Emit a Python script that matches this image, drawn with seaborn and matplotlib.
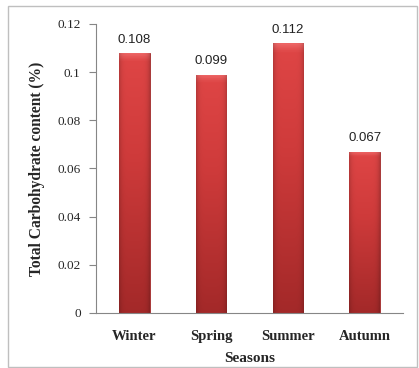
import numpy as np
import pandas as pd
import seaborn as sns
import matplotlib.pyplot as plt
from matplotlib.patches import Rectangle

# data
seasons = ["Winter", "Spring", "Summer", "Autumn"]
carbs = [0.108, 0.099, 0.112, 0.067]
df = pd.DataFrame({"Seasons": seasons, "carb": carbs})

sns.set_style("white")
plt.rcParams["font.family"] = ["Liberation Serif", "DejaVu Serif"]

fig = plt.figure(figsize=(4.19, 3.68), dpi=100)
ax = fig.add_axes([0.229, 0.1495, 0.733, 0.7853])

sns.barplot(data=df, x="Seasons", y="carb", color="#C83232", width=0.4,
            saturation=1, ax=ax)

# shading: light red at the top, darker towards the bottom, dark edges
fy = np.linspace(1, 0, 120)  # top -> bottom
stops_f = [0.0, 0.6, 0.97, 1.0]
stops_c = np.array([[0.64, 0.16, 0.16], [0.81, 0.23, 0.23],
                    [0.87, 0.27, 0.27], [0.93, 0.40, 0.40]])
col = np.stack([np.interp(fy, stops_f, stops_c[:, k]) for k in range(3)], -1)
xs = np.linspace(-1, 1, 60)
horiz = 1 - 0.18 * np.abs(xs) ** 6
img = np.clip(col[:, None, :] * horiz[None, :, None], 0, 1)
for p in ax.patches:
    x0, y0 = p.get_x(), p.get_y()
    w, h = p.get_width(), p.get_height()
    im = ax.imshow(img, extent=[x0, x0 + w, y0, y0 + h], aspect="auto",
                   origin="upper", zorder=p.get_zorder() + 0.1)
    im.set_clip_path(p)
    p.set_edgecolor("#9E2A2A")
    p.set_linewidth(0.6)

for i, v in enumerate(carbs):
    ax.text(i, v + 0.003, f"{v:g}", ha="center", va="bottom", fontsize=9.5,
            family="Liberation Sans", color="#222222")

ax.set_xlim(-0.5, 3.5)
ax.set_ylim(0, 0.12)
ax.set_yticks([0, 0.02, 0.04, 0.06, 0.08, 0.1, 0.12])
ax.set_yticklabels(["0", "0.02", "0.04", "0.06", "0.08", "0.1", "0.12"])
ax.set_xticks([-0.5, 0.5, 1.5, 2.5, 3.5], minor=True)
ax.tick_params(axis="x", which="major", length=0, pad=12, labelsize=10.5)
ax.tick_params(axis="x", which="minor", length=5, color="#868686", width=0.8)
ax.tick_params(axis="y", length=5, color="#868686", width=0.8, labelsize=9.5,
               pad=6, left=True)
for lab in ax.get_xticklabels():
    lab.set_fontweight("bold")

for s in ["top", "right"]:
    ax.spines[s].set_visible(False)
for s in ["left", "bottom"]:
    ax.spines[s].set_color("#868686")
    ax.spines[s].set_linewidth(0.8)

ax.set_xlabel("Seasons", fontsize=11, fontweight="bold", labelpad=7)
ax.set_ylabel("Total Carbohydrate content (%)", fontsize=11.2,
              fontweight="bold")
ax.yaxis.set_label_coords(-0.166, 0.5)

fig.patches.append(Rectangle((8 / 419, 1 / 368), 409 / 419, 361 / 368,
                             transform=fig.transFigure, fill=False,
                             edgecolor="#BFBFBF", linewidth=1))

fig.savefig("out.png", dpi=100)
